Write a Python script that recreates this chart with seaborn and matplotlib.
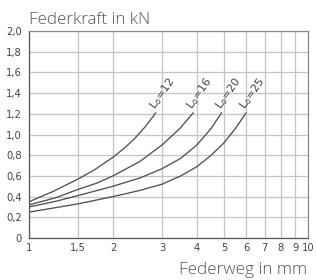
import matplotlib
matplotlib.use("Agg")
import matplotlib.pyplot as plt
import seaborn as sns
import pandas as pd

# Data
x_l12 = [1.0, 1.22, 1.5, 1.72, 2.0, 2.2, 2.39, 2.6, 2.85]
y_l12 = [0.35, 0.45, 0.57, 0.66, 0.78, 0.87, 0.96, 1.07, 1.21]
x_l16 = [1.0, 1.25, 1.5, 1.75, 2.0, 2.5, 3.0, 3.48, 3.88]
y_l16 = [0.32, 0.39, 0.47, 0.53, 0.60, 0.74, 0.90, 1.06, 1.21]
x_l20 = [1.0, 1.25, 1.5, 2.0, 2.5, 3.0, 3.5, 4.0, 4.5, 4.9]
y_l20 = [0.30, 0.355, 0.41, 0.50, 0.58, 0.67, 0.77, 0.90, 1.06, 1.21]
x_l25 = [1.0, 1.5, 2.0, 2.5, 3.0, 3.5, 4.0, 4.5, 5.0, 5.5, 6.0]
y_l25 = [0.25, 0.33, 0.40, 0.46, 0.52, 0.60, 0.69, 0.80, 0.92, 1.06, 1.21]
series_names = ["12", "16", "20", "25"]

x_ticks = [1, 1.5, 2, 3, 4, 5, 6, 7, 8, 9, 10]
x_tick_labels = ["1", "1,5", "2", "3", "4", "5", "6", "7", "8", "9", "10"]
y_ticks = [0, 0.2, 0.4, 0.6, 0.8, 1.0, 1.2, 1.4, 1.6, 1.8, 2.0]
y_tick_labels = ["0", "0,2", "0,4", "0,6", "0,8", "1,0", "1,2", "1,4", "1,6", "1,8", "2,0"]

frames = []
for name, xs, ys in zip(series_names, [x_l12, x_l16, x_l20, x_l25],
                        [y_l12, y_l16, y_l20, y_l25]):
    frames.append(pd.DataFrame({"x": xs, "y": ys, "L0": name}))
df = pd.concat(frames, ignore_index=True)

sns.set_style("white")
fig = plt.figure(figsize=(3.16, 2.8), dpi=100)
ax = fig.add_axes([29 / 316, 42 / 280, 279 / 316, 207 / 280])

line_color = "#505050"
sns.lineplot(data=df, x="x", y="y", hue="L0", palette=[line_color] * 4,
             legend=False, ax=ax, linewidth=0.95, sort=False, estimator=None)
for ln in ax.get_lines():
    ln.set_solid_joinstyle("round")

ax.set_xscale("log")
ax.set_xlim(1, 10)
ax.set_ylim(0, 2.0)
ax.set_xticks(x_ticks)
ax.set_xticklabels(x_tick_labels)
ax.xaxis.set_minor_locator(matplotlib.ticker.NullLocator())
ax.set_yticks(y_ticks)
ax.set_yticklabels(y_tick_labels)
ax.tick_params(axis="both", length=0, labelsize=7.2, labelcolor="#444444")
ax.tick_params(axis="y", pad=5)
ax.tick_params(axis="x", pad=3.5)
ax.grid(True, which="major", color="#c4c4c4", linewidth=0.9)
for s in ax.spines.values():
    s.set_visible(True)
    s.set_color("#8a8a8a")
    s.set_linewidth(0.9)
ax.spines["left"].set_color("#555555")
ax.spines["bottom"].set_color("#555555")
ax.set_xlabel("")
ax.set_ylabel("")

# Curve labels
for name, xs, ys in zip(series_names, [x_l12, x_l16, x_l20, x_l25],
                        [y_l12, y_l16, y_l20, y_l25]):
    ax.annotate("L$_\\mathregular{o}$=" + name, xy=(xs[-1], ys[-1]),
                xytext=(1.5, 0.5), textcoords="offset points",
                rotation=55, rotation_mode="anchor", ha="left", va="bottom",
                fontsize=8, color="#444444", family="DejaVu Sans")

fig.text(29 / 316, 1 - 24 / 280, "Federkraft in kN", ha="left", va="baseline",
         fontsize=12.2, color="#555555", family="Open Sans", fontweight="light")
fig.text(307 / 316, 1 - 274 / 280, "Federweg in mm", ha="right", va="baseline",
         fontsize=12.3, color="#555555", family="Open Sans", fontweight="light")

fig.savefig("out.png", dpi=100)
